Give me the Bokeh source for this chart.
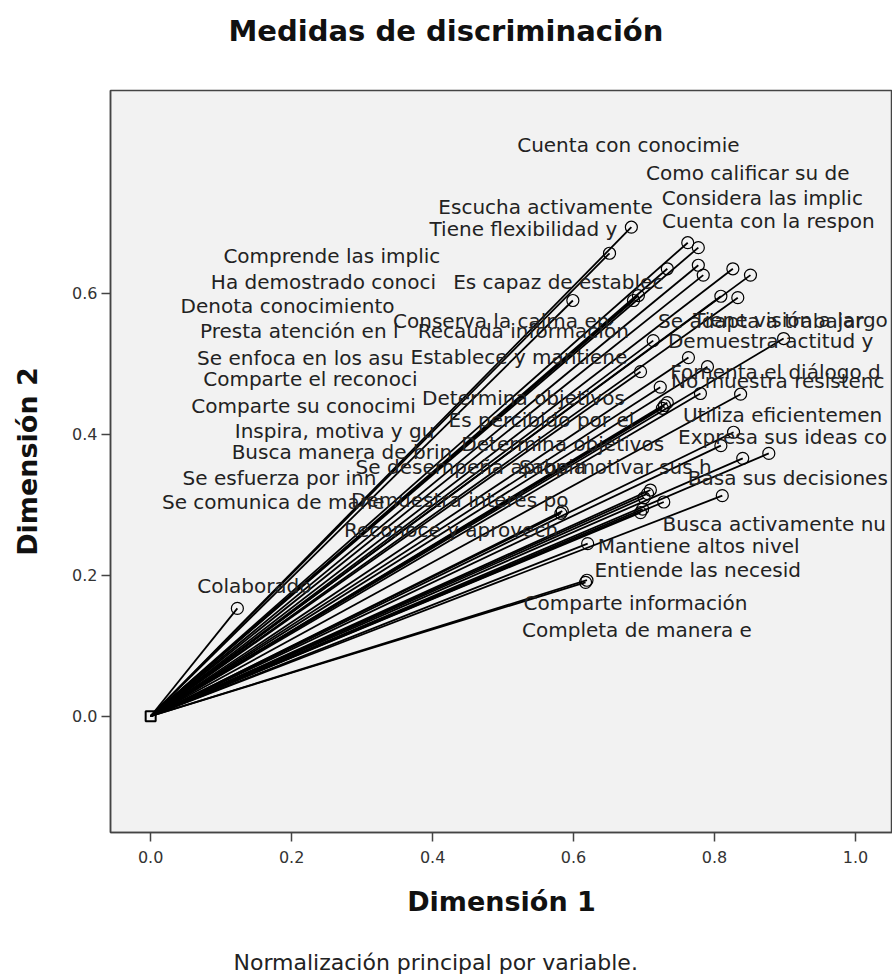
from bokeh.plotting import figure
from bokeh.models import ColumnDataSource, FixedTicker, Title, LinearAxis, CustomJSTickFormatter
from bokeh.core.properties import value
from bokeh.embed import file_html
from bokeh.resources import INLINE

# ---- data (discrimination measures, dimension 1 / dimension 2) ----
labels = [
    "Cuenta con conocimie", "Como calificar su de", "Escucha activamente",
    "Considera las implic", "Tiene flexibilidad y", "Cuenta con la respon",
    "Comprende las implic", "Ha demostrado conoci", "Es capaz de establec",
    "Denota conocimiento", "Conserva la calma en", "Presta atención en l",
    "Recauda información", "Se adapta a trabajar", "Tiene visión a largo",
    "Demuestra actitud y", "Se enfoca en los asu", "Establece y mantiene",
    "Fomenta el diálogo d", "No muestra resistenc", "Comparte el reconoci",
    "Determina objetivos", "Comparte su conocimi", "Es percibido por el",
    "Utiliza eficientemen", "Inspira, motiva y gu", "Expresa sus ideas co",
    "Busca manera de brin", "Determina objetivos ", "Se desempeña apropia",
    "Sabe motivar sus h", "Se esfuerza por inn", "Basa sus decisiones",
    "Se comunica de mane", "Demuestra interés po", "Busca activamente nu",
    "Reconoce y aprovech", "Mantiene altos nivel", "Entiende las necesid",
    "Colaborado", "Comparte información", "Completa de manera e",
]
dim1 = [
    0.682, 0.762, 0.651, 0.777, 0.685, 0.777,
    0.599, 0.692, 0.733, 0.695, 0.713, 0.723,
    0.784, 0.826, 0.851, 0.898, 0.733, 0.809,
    0.790, 0.833, 0.726, 0.763, 0.705, 0.780,
    0.837, 0.695, 0.827, 0.582, 0.809, 0.728,
    0.709, 0.729, 0.877, 0.584, 0.698, 0.811,
    0.700, 0.620, 0.840, 0.123, 0.617, 0.619,
]
dim2 = [
    0.694, 0.672, 0.657, 0.665, 0.590, 0.640,
    0.590, 0.597, 0.635, 0.489, 0.533, 0.467,
    0.626, 0.635, 0.626, 0.536, 0.445, 0.596,
    0.496, 0.594, 0.437, 0.509, 0.316, 0.458,
    0.457, 0.289, 0.403, 0.288, 0.384, 0.304,
    0.321, 0.441, 0.373, 0.291, 0.294, 0.313,
    0.310, 0.245, 0.366, 0.153, 0.190, 0.193,
]
origin_x = [0.0]
origin_y = [0.0]
x_ticks = [0.0, 0.2, 0.4, 0.6, 0.8, 1.0]
y_ticks = [0.0, 0.2, 0.4, 0.6]
title_text = "Medidas de discriminación"
x_label = "Dimensión 1"
y_label = "Dimensión 2"
footnote_text = "Normalización principal por variable."

# ---- label placement (screen-pixel offsets from each point) ----
label_dx = [
    -3, 60, -64, 64, -110, 70,
    -241, -315, -109, -353, -152, -361,
    -180, 28, 40, -13, -367, -202,
    68, 40, -352, -165, -344, -159,
    42, -306, 49, -219, -155, -193,
    -35, -385, 19, -289, -183, 52,
    -193, 111, -45, 17, 50, 50,
]
label_dy = [
    -82, -70, -46, -50, -71, -44,
    -44, -14, 13, -66, -20, -56,
    56, 52, 45, 2, -45, 61,
    5, 83, -29, 40, -88, 26,
    21, -82, 5, -61, -2, -35,
    -23, 73, 25, -9, -9, 28,
    32, 2, 112, -22, 21, 50,
]

src = ColumnDataSource(dict(x=dim1, y=dim2, label=labels, dx=label_dx, dy=label_dy,
                            x0=[origin_x[0]] * len(dim1), y0=[origin_y[0]] * len(dim1)))

FONT = "DejaVu Sans"

p = figure(width=892, height=976, output_backend="svg", toolbar_location=None,
           x_range=(-0.057, 1.0525), y_range=(-0.165, 0.888), title=None,
           min_border_left=110, min_border_right=0, min_border_top=90, min_border_bottom=144)

p.background_fill_color = "#f2f2f2"
p.border_fill_color = "white"
p.outline_line_color = "#444444"
p.outline_line_width = 1.5
p.grid.visible = False

p.segment(x0="x0", y0="y0", x1="x", y1="y", source=src, line_color="black", line_width=1.8)
p.scatter(x="x", y="y", source=src, marker="circle", size=12, fill_color=None,
          line_color="black", line_width=1.2)
p.scatter(x=origin_x, y=origin_y, marker="square", size=10, fill_color=None,
          line_color="black", line_width=2)
p.text(x="x", y="y", text="label", x_offset="dx", y_offset="dy", source=src,
       text_align="center", text_baseline="middle", text_font=value(FONT),
       text_font_size="20px", text_color="#222222")

for ax, ticks, lab in ((p.xaxis, x_ticks, x_label), (p.yaxis, y_ticks, y_label)):
    ax.ticker = FixedTicker(ticks=ticks)
    ax.axis_label = lab
    ax.axis_label_text_font = FONT
    ax.axis_label_text_font_size = "27px"
    ax.axis_label_text_font_style = "bold"
    ax.axis_label_text_color = "#111111"
    ax.major_label_text_font = FONT
    ax.major_label_text_font_size = "16px"
    ax.major_label_text_color = "#333333"
    ax.major_tick_out = 9
    ax.major_tick_in = 0
    ax.minor_tick_line_color = None
    ax.major_tick_line_color = "#444444"
    ax.major_tick_line_width = 1.5
    ax.axis_line_color = "#444444"
    ax.axis_line_width = 1.5
    ax.formatter = CustomJSTickFormatter(code="return tick.toFixed(1);")

p.xaxis.major_label_standoff = 9
p.xaxis.axis_label_standoff = 20
p.yaxis.major_label_standoff = 4
p.yaxis.axis_label_standoff = 26


def spacer_axis(gap):
    # an invisible axis whose only job is to reserve `gap` pixels of space
    return LinearAxis(ticker=FixedTicker(ticks=[0.5]), major_tick_out=gap, major_tick_in=0,
                      major_tick_line_color=None, minor_tick_line_color=None,
                      axis_line_color=None, major_label_standoff=0, axis_label_standoff=0,
                      major_label_text_font_size="0px",
                      formatter=CustomJSTickFormatter(code="return '';"))


# title above the frame, separated by a spacer
p.add_layout(spacer_axis(43), "above")
p.add_layout(Title(text=title_text, align="left", offset=118, standoff=0,
                   text_font=FONT, text_font_size="29px", text_font_style="bold",
                   text_color="#111111"), "above")

# footnote below the x axis
p.add_layout(spacer_axis(28), "below")
p.add_layout(Title(text=footnote_text, align="left", offset=123, standoff=0,
                   text_font=FONT, text_font_size="22px", text_font_style="normal",
                   text_color="#222222"), "below")

open("out.html", "w").write(file_html(p, INLINE))
